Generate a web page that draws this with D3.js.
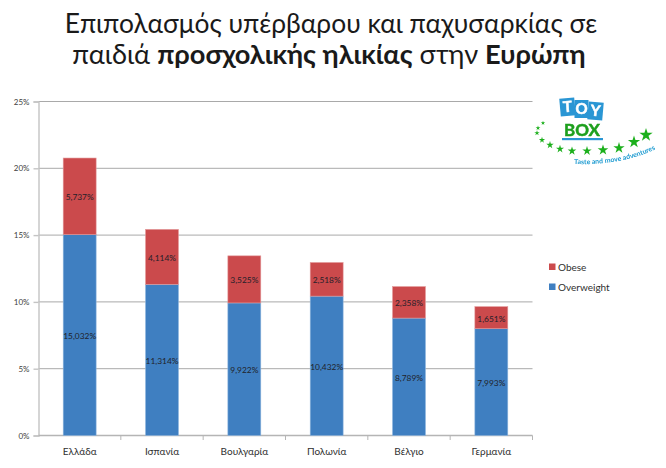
<!DOCTYPE html>
<html><head><meta charset="utf-8">
<script src="https://cdnjs.cloudflare.com/ajax/libs/d3/7.8.5/d3.min.js"></script>
<style>html,body{margin:0;padding:0;background:#fff}svg{display:block}text{font-family:"Lato","Open Sans",sans-serif}</style>
</head><body><svg id="c" width="666" height="468"></svg>
<script>
const categories=["Ελλάδα","Ισπανία","Βουλγαρία","Πολωνία","Βέλγιο","Γερμανία"];
const overweight=[15.032,11.314,9.922,10.432,8.789,7.993];
const obese=[5.737,4.114,3.525,2.518,2.358,1.651];
const yTicks=[0,5,10,15,20,25];
const seriesNames=["Obese","Overweight"];
const colors={Obese:"#cb4a4c",Overweight:"#3f7fc1"};
const fmt=v=>v.toFixed(3).replace(".",",")+"%";

const svg=d3.select("#c");
const defs=svg.append("defs");
defs.append("filter").attr("id","soft").append("feGaussianBlur").attr("stdDeviation",0.35);
const x=d3.scaleBand().domain(categories).range([38.5,532.5]).paddingInner(0.6).paddingOuter(0.3);
const xTick=d3.scaleBand().domain(categories).range([38.5,532.5]);
const y=d3.scaleLinear().domain([0,25]).range([435.5,101.5]);

// title
const title=svg.append("text").attr("text-anchor","middle").attr("fill","#1a1a1a");
title.append("tspan").attr("x",331).attr("y",33).attr("font-size",26.4).text("Επιπολασμός υπέρβαρου και παχυσαρκίας σε");
const l2=title.append("tspan").attr("x",329).attr("y",64).attr("font-size",27.2);
l2.append("tspan").text("παιδιά ");
l2.append("tspan").attr("font-weight","bold").text("προσχολικής ηλικίας");
l2.append("tspan").text(" στην ");
l2.append("tspan").attr("font-weight","bold").text("Ευρώπη");

// grid
svg.append("g").selectAll("line").data(yTicks.filter(d=>d>0)).join("line")
 .attr("x1",38.5).attr("x2",532.5).attr("y1",d=>y(d)).attr("y2",d=>y(d))
 .attr("stroke","#a9a9a9").attr("stroke-width",1);

// y axis
const ya=svg.append("g").attr("transform","translate(38.5,0)")
 .call(d3.axisLeft(y).tickValues(yTicks).tickSize(5).tickFormat(d=>d+"%"));
ya.selectAll("path,line").attr("stroke","#c4c4c4").attr("stroke-width",1.4);
ya.selectAll("text").attr("font-size",8).attr("fill","#404040").attr("dx",-1);

// x axis
const xa=svg.append("g").attr("transform","translate(0,435.5)")
 .call(d3.axisBottom(x).tickSize(0).tickPadding(11));
xa.select("path").remove();
xa.selectAll("text").attr("font-size",10).attr("fill","#303030").attr("dy","0.8em");
svg.append("line").attr("x1",38.5).attr("x2",532.5).attr("y1",435.5).attr("y2",435.5).attr("stroke","#b5b5b5").attr("stroke-width",1.4);
svg.append("g").selectAll("line").data(categories).join("line")
 .attr("x1",d=>xTick(d)+xTick.bandwidth()).attr("x2",d=>xTick(d)+xTick.bandwidth())
 .attr("y1",435.5).attr("y2",440).attr("stroke","#b5b5b5").attr("stroke-width",1);

// bars
const rows=categories.map((c,i)=>({c,ov:overweight[i],ob:obese[i]}));
const g=svg.append("g");
g.selectAll(".ov").data(rows).join("rect").attr("x",d=>x(d.c)).attr("width",x.bandwidth())
 .attr("y",d=>y(d.ov)).attr("height",d=>y(0)-y(d.ov)).attr("fill",colors.Overweight).attr("stroke","#8fb6de").attr("stroke-width",.6);
g.selectAll(".ob").data(rows).join("rect").attr("x",d=>x(d.c)).attr("width",x.bandwidth())
 .attr("y",d=>y(d.ov+d.ob)).attr("height",d=>y(d.ov)-y(d.ov+d.ob)).attr("fill",colors.Obese).attr("stroke","#e39a9b").attr("stroke-width",.6);
const lab=svg.append("g").attr("text-anchor","middle").attr("font-size",8.4).attr("fill","#1f1f2a");
lab.selectAll(".a").data(rows).join("text").attr("x",d=>x(d.c)+x.bandwidth()/2).attr("y",d=>y(d.ov/2)+4).text(d=>fmt(d.ov));
lab.selectAll(".b").data(rows).join("text").attr("x",d=>x(d.c)+x.bandwidth()/2).attr("y",d=>y(d.ov+d.ob/2)+4).text(d=>fmt(d.ob));

// legend
const lg=svg.append("g").selectAll("g").data(seriesNames).join("g").attr("transform",(d,i)=>`translate(549,${267+i*20})`);
lg.append("rect").attr("y",-3.5).attr("width",6.5).attr("height",6.5).attr("fill",d=>colors[d]);
lg.append("text").attr("x",9).attr("y",3.5).attr("font-size",10).attr("fill","#303030").text(d=>d);

// logo
const logo=svg.append("g").attr("font-weight","bold").attr("filter","url(#soft)");
const logoLetters=["T","O","Y"];
const logoBoxes=[[560,98,15,18,-5],[574.5,100,14,18,0],[588,102,15,18,5]];
logoBoxes.forEach(([bx,by,w,h,r],i)=>{
 const t=logo.append("g").attr("transform",`rotate(${r} ${bx+w/2} ${by+h/2})`);
 t.append("rect").attr("x",bx).attr("y",by).attr("width",w).attr("height",h).attr("fill","#2a96d4");
 t.append("text").attr("x",bx+w/2).attr("y",by+14).attr("text-anchor","middle").attr("font-size",15).attr("fill","#fff").attr("stroke","#fff").attr("stroke-width",.5).text(logoLetters[i]);
});
logo.append("text").attr("x",582).attr("y",136).attr("text-anchor","middle").attr("font-size",17).attr("fill","#1fa01f").attr("stroke","#1fa01f").attr("stroke-width",.5).text("BOX");
logo.append("rect").attr("x",562).attr("y",138).attr("width",41).attr("height",2.2).attr("fill","#2a96d4");
const starPts=[[543,123,6],[538,128,7],[537,133,9],[542,140,12],[550,145,17],[560,149,20],[572,151,23],[587,151,27],[603,150,35],[619,148,39],[634,142,47],[646,135,55]];
logo.append("g").selectAll("path").data(starPts).join("path")
 .attr("d",d=>d3.symbol(d3.symbolStar,d[2])())
 .attr("transform",d=>`translate(${d[0]},${d[1]})`).attr("fill","#1fb01f");
logo.append("path").attr("id","arc").attr("fill","none").attr("d","M574 164 Q625 166 662 146");
logo.append("text").attr("font-size",6.9).attr("fill","#1c9ad0").append("textPath").attr("href","#arc").text("Taste and move adventures");
</script></body></html>
